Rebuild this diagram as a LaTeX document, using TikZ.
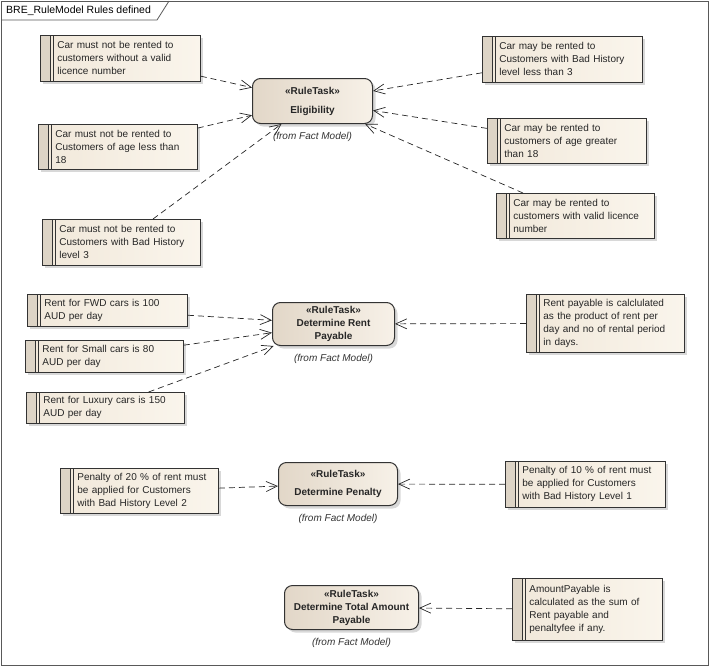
\documentclass[tikz,border=0pt]{standalone}
\usepackage{fontspec}
\setmainfont{Liberation Sans}
\usepackage{xcolor}
\usetikzlibrary{arrows.meta,positioning,shadows}
\definecolor{notelight}{HTML}{FAF5EC}
\definecolor{notedark}{HTML}{F1E8DA}
\definecolor{notestrip}{HTML}{DDD4C6}
\definecolor{tasklight}{HTML}{F7F1E8}
\definecolor{taskdark}{HTML}{E2D7C8}
\definecolor{edgegray}{HTML}{333333}
\tikzset{
  rulenote/.style={draw=edgegray, line width=0.8pt, anchor=north west, inner sep=0pt,
    minimum width=#1, text width=#1-8pt, minimum height=46pt, align=left,
    font=\fontsize{10pt}{13pt}\selectfont, text=black!85,
    left color=notedark, right color=notelight,
    drop shadow={shadow xshift=3pt, shadow yshift=-3pt, fill=black!30},
    execute at begin node={\leftskip=13pt},
    path picture={
      \fill[notestrip] (path picture bounding box.south west) rectangle ([xshift=10pt]path picture bounding box.north west);
      \draw[edgegray, line width=0.7pt]
        ([xshift=10pt]path picture bounding box.south west) -- ([xshift=10pt]path picture bounding box.north west)
        ([xshift=13pt]path picture bounding box.south west) -- ([xshift=13pt]path picture bounding box.north west);
    }},
  rulenote/.default=159pt,
  ruletask/.style={draw=edgegray, line width=1pt, rounded corners=8pt, anchor=north west,
    minimum width=120pt, minimum height=44pt, align=center, inner sep=2pt,
    font=\fontsize{10pt}{13pt}\selectfont\bfseries, text=black!85,
    left color=taskdark, right color=tasklight,
    drop shadow={shadow xshift=3pt, shadow yshift=-3pt, fill=black!30}},
  fromnote/.style={font=\fontsize{10pt}{12pt}\selectfont\itshape, text=black!80, inner sep=1pt, below=7pt of #1},
  ruledep/.style={draw=black!85, line width=0.7pt, dash pattern=on 6pt off 4pt,
    -{Straight Barb[length=11pt,width=10pt]}}
}
\begin{document}
\begin{tikzpicture}[x=1pt, y=-1pt]
\useasboundingbox (0,0) rectangle (710,667);
% frame and title tab
\draw[black!65, line width=0.8pt] (1,1) rectangle (708,665);
\draw[black!65, line width=0.8pt] (1,20) -- (157,20) -- (169,1);
\node[anchor=west, inner sep=0pt, font=\fontsize{10.5pt}{12pt}\selectfont] (title) at (6,10.5) {BRE\_RuleModel Rules defined};

% eligibility rules
\node[ruletask, minimum height=45pt] (eligibility) at (252,78) {«RuleTask»\\[6pt]Eligibility};
\node[fromnote=eligibility] (eligibilityfrom) {(from Fact Model)};
\node[rulenote=160pt] (mustlicence) at (40,35) {Car must not be rented to\\customers without a valid\\licence number};
\node[rulenote, minimum height=45pt] (mustage) at (38,124) {Car must not be rented to\\Customers of age less than\\18};
\node[rulenote=158pt] (musthistory) at (42,219) {Car must not be rented to\\Customers with Bad History\\level 3};
\node[rulenote=160pt] (mayhistory) at (482,36) {Car may be rented to\\Customers with Bad History\\level less than 3};
\node[rulenote, minimum height=45pt] (mayage) at (487,118) {Car may be rented to\\customers of age greater\\than 18};
\node[rulenote=158pt, minimum height=45pt] (maylicence) at (496,193) {Car may be rented to\\customers with valid licence\\number};
\draw[ruledep] (mustlicence) -- (eligibility);
\draw[ruledep] (mustage) -- (eligibility);
\draw[ruledep] (musthistory) -- (eligibility);
\draw[ruledep] (mayhistory) -- (eligibility);
\draw[ruledep] (mayage) -- (eligibility);
\draw[ruledep] (maylicence) -- (eligibility);

% rent rules
\node[ruletask, minimum width=122pt, minimum height=43pt] (rentpayable) at (272,302) {«RuleTask»\\Determine Rent\\Payable};
\node[fromnote=rentpayable] (rentpayablefrom) {(from Fact Model)};
\node[rulenote=160pt, minimum height=32pt] (rentfwd) at (27,294) {Rent for FWD cars is 100\\AUD per day};
\node[rulenote=158pt, minimum height=32pt] (rentsmall) at (25,340) {Rent for Small cars is 80\\AUD per day};
\node[rulenote=158pt, minimum height=31pt] (rentluxury) at (26,392) {Rent for Luxury cars is 150\\AUD per day};
\node[rulenote=158pt, minimum height=58pt] (rentcalc) at (526,294) {Rent payable is calclulated\\as the product of rent per\\day and no of rental period\\in days.};
\draw[ruledep] (rentfwd) -- (rentpayable);
\draw[ruledep] (rentsmall) -- (rentpayable);
\draw[ruledep] (rentluxury) -- (rentpayable);
\draw[ruledep] (rentcalc) -- (rentpayable);

% penalty rules
\node[ruletask, minimum width=119pt, minimum height=43pt] (penalty) at (278,462) {«RuleTask»\\[5pt]Determine Penalty};
\node[fromnote=penalty] (penaltyfrom) {(from Fact Model)};
\node[rulenote=158pt, minimum height=45pt] (penaltytwo) at (60,468) {Penalty of 20 \% of rent must\\be applied for Customers\\with Bad History Level 2};
\node[rulenote=160pt] (penaltyone) at (505,461) {Penalty of 10 \% of rent must\\be applied for Customers\\with Bad History Level 1};
\draw[ruledep] (penaltytwo) -- (penalty);
\draw[ruledep] (penaltyone) -- (penalty);

% total amount
\node[ruletask, minimum width=134pt] (totalamount) at (284,585) {«RuleTask»\\Determine Total Amount\\Payable};
\node[fromnote=totalamount] (totalamountfrom) {(from Fact Model)};
\node[rulenote=150pt, minimum height=62pt] (amountcalc) at (512,578) {AmountPayable is\\calculated as the sum of\\Rent payable and\\penaltyfee if any.};
\draw[ruledep] (amountcalc) -- (totalamount);
\end{tikzpicture}
\end{document}
